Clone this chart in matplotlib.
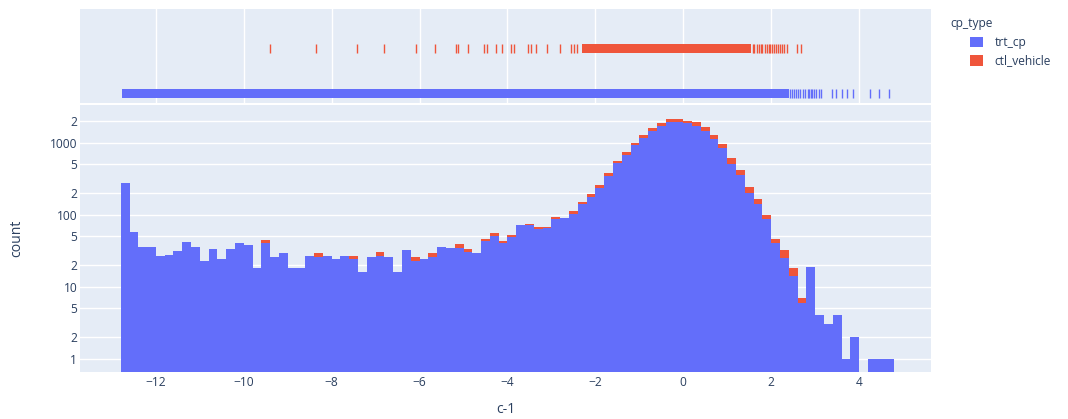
import numpy as np
import matplotlib.pyplot as plt
from matplotlib.patches import Patch

plt.rcParams['font.family'] = ['Open Sans', 'DejaVu Sans']

# ---- data ----
bin_edges = np.round(np.linspace(-12.8, 4.8, 89), 1)   # c-1 bins, width 0.2

trt_counts = [278, 57, 36, 36, 27, 28, 31, 42, 36, 23,
              33, 24, 33, 40, 38, 18, 41, 26, 29, 18,
              18, 27, 26, 27, 24, 27, 24, 16, 26, 27,
              26, 16, 32, 23, 24, 26, 36, 34, 35, 30,
              29, 43, 51, 40, 49, 73, 71, 63, 66, 87,
              90, 103, 141, 175, 237, 345, 518, 675, 920, 1173,
              1468, 1722, 1930, 1920, 1860, 1722, 1468, 1126, 836, 501,
              356, 200, 141, 87, 40, 25, 14, 6, 19, 4,
              3, 4, 1, 2, 0, 1, 1, 1]

ctl_counts = [0, 0, 0, 0, 0, 0, 0, 0, 0, 0,
              0, 0, 0, 0, 0, 0, 4, 0, 0, 0,
              0, 0, 3, 0, 0, 0, 3, 0, 0, 3,
              0, 0, 0, 3, 0, 3, 0, 0, 4, 3,
              0, 3, 4, 3, 4, 0, 3, 4, 1, 7,
              1, 9, 11, 17, 19, 31, 39, 61, 71, 94,
              132, 154, 183, 190, 140, 198, 184, 153, 123, 106,
              62, 45, 26, 11, 6, 7, 4, 1, 0, 0,
              0, 0, 0, 0, 0, 0, 0, 0]

# rug marks: solid runs where points are packed, single ticks elsewhere
trt_rug_dense = (-12.78, 2.40)
trt_rug_ticks = [2.42, 2.47, 2.52, 2.56, 2.61, 2.66, 2.72, 2.78, 2.83, 2.86,
                 2.90, 2.93, 2.97, 3.02, 3.08, 3.13, 3.38, 3.47, 3.60, 3.72,
                 3.87, 4.25, 4.46, 4.67]
ctl_rug_dense = (-2.30, 1.55)
ctl_rug_ticks = [-9.41, -8.35, -7.43, -6.82, -6.08, -5.66, -5.18, -5.12, -4.89,
                 -4.53, -4.47, -4.26, -4.13, -3.92, -3.85, -3.54, -3.47, -3.36,
                 -3.09, -2.80, -2.55, -2.48, -2.41, 1.59, 1.62, 1.67, 1.72, 1.76,
                 1.80, 1.85, 1.90, 1.95, 1.98, 2.02, 2.06, 2.12, 2.16, 2.20,
                 2.25, 2.29, 2.36, 2.58, 2.67]

x_ticks = [-12, -10, -8, -6, -4, -2, 0, 2, 4]
y_ticks = [1, 2, 5, 10, 20, 50, 100, 200, 500, 1000, 2000]
y_tick_labels = ['1', '2', '5', '10', '2', '5', '100', '2', '5', '1000', '2']

# ---- style ----
blue = '#636EFA'
red = '#EF553B'
bg = '#E5ECF6'
txt = '#2a3f5f'
W, H = 1068, 419

fig = plt.figure(figsize=(W / 100, H / 100), dpi=100)

def frac(l, t, r, b):
    return [l / W, 1 - b / H, (r - l) / W, (b - t) / H]

ax = fig.add_axes(frac(80, 105, 931, 371.7))
rug = fig.add_axes(frac(80, 9, 931, 102.7), sharex=ax)

xlim = (-13.727, 5.636)

# main histogram
widths = np.diff(bin_edges)
trt = np.array(trt_counts, dtype=float)
ctl = np.array(ctl_counts, dtype=float)
m = trt > 0
ax.bar(bin_edges[:-1][m], trt[m], width=widths[m], align='edge',
       color=blue, linewidth=0, zorder=2)
mc = ctl > 0
ax.bar(bin_edges[:-1][mc], ctl[mc], width=widths[mc], bottom=trt[mc],
       align='edge', color=red, linewidth=0, zorder=2)

ax.set_yscale('log')
ax.set_ylim(0.66, 3340)
ax.set_xlim(*xlim)
ax.set_facecolor(bg)
for s in ax.spines.values():
    s.set_visible(False)
ax.set_axisbelow(True)
ax.yaxis.grid(True, color='white', linewidth=1)
ax.xaxis.grid(False)
ax.set_yticks(y_ticks)
ax.set_yticklabels(y_tick_labels)
ax.yaxis.set_minor_locator(plt.NullLocator())
ax.set_xticks(x_ticks)
ax.tick_params(axis='both', length=0, labelsize=8.64, labelcolor=txt)
ax.tick_params(axis='x', pad=3)
ax.tick_params(axis='y', pad=2)

# rug panel
rug.set_facecolor(bg)
for s in rug.spines.values():
    s.set_visible(False)
rug.set_ylim(0, 1)
rug.set_axisbelow(True)
rug.xaxis.grid(True, color='white', linewidth=1)
rug.tick_params(axis='both', length=0, labelbottom=False, labelleft=False)
rug.set_yticks([])

trt_y = (0.047, 0.146)
ctl_y = (0.534, 0.626)
rug.axvspan(*trt_rug_dense, ymin=trt_y[0], ymax=trt_y[1], color=blue, lw=0)
rug.vlines(trt_rug_ticks, *trt_y, color=blue, lw=1)
rug.axvspan(*ctl_rug_dense, ymin=ctl_y[0], ymax=ctl_y[1], color=red, lw=0)
rug.vlines(ctl_rug_ticks, *ctl_y, color=red, lw=1)
rug.set_xlim(*xlim)

# axis titles
fig.text(505.5 / W, 1 - 409.5 / H, 'c-1', ha='center', va='center',
         fontsize=10.08, color=txt)
fig.text(17 / W, 1 - 238.3 / H, 'count', ha='center', va='center',
         rotation=90, fontsize=10.08, color=txt)

# legend
fig.text(950 / W, 1 - 23.3 / H, 'cp_type', ha='left', va='center',
         fontsize=8.64, color=txt)
handles = [Patch(facecolor=blue, edgecolor='none', label='trt_cp'),
           Patch(facecolor=red, edgecolor='none', label='ctl_vehicle')]
leg = fig.legend(handles=handles, loc='upper left',
                 bbox_to_anchor=(970 / W, 1 - 36 / H),
                 frameon=False, fontsize=8.64, handlelength=1.1,
                 handleheight=1.0, handletextpad=0.95, labelspacing=0.45,
                 borderpad=0, borderaxespad=0)
for t in leg.get_texts():
    t.set_color(txt)

fig.savefig('out.png', dpi=100, facecolor='white')
